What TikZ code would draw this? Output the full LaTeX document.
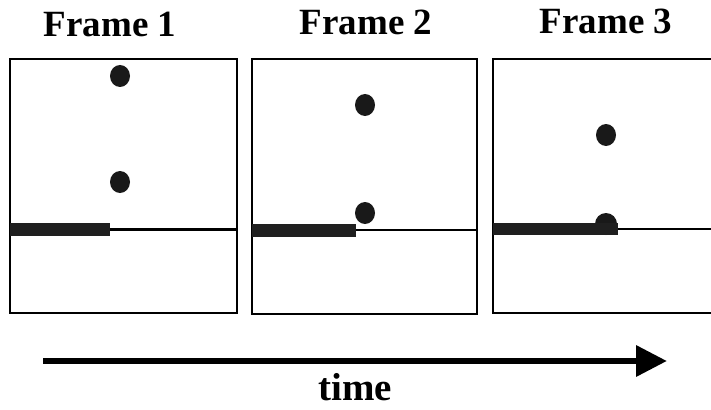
\documentclass[tikz,border=0pt]{standalone}
\usepackage{fontspec}
\setmainfont{Liberation Serif}
\usetikzlibrary{arrows.meta}
\begin{document}
\begin{tikzpicture}[x=1pt,y=-1pt,
  framebox/.style={draw=black,line width=2.4pt},
  floorline/.style={draw=black,line width=2.3pt},
  bar/.style={fill=black!88},
  ball/.style={fill=black!90},
  title/.style={font=\fontsize{37}{42}\selectfont\bfseries,anchor=base}]
\useasboundingbox (0,0) rectangle (711,409);
\clip (0,0) rectangle (711,409);
% titles
\node[title] (t1) at (110,37) {Frame 1};
\node[title] (t2) at (366,35) {Frame 2};
\node[title] (t3) at (606,34) {Frame 3};
% frame 1
\draw[framebox] (10,59) rectangle (237,313);
\draw[floorline] (10,229.5) -- (237,229.5);
\fill[bar] (10,223) rectangle (110,236);
\fill[ball] (120,76) ellipse (10 and 11);
\fill[ball] (120,182) ellipse (10 and 11);
% frame 2
\draw[framebox] (252,59) rectangle (477,314);
\draw[floorline] (252,230) -- (477,230);
\fill[bar] (252,224) rectangle (356,237);
\fill[ball] (365,105) ellipse (10 and 11);
\fill[ball] (365,213) ellipse (10 and 11);
% frame 3
\draw[framebox] (493,59) rectangle (720,313);
\draw[floorline] (493,229) -- (720,229);
\fill[ball] (606,135) ellipse (10 and 11);
\fill[ball] (606,224) ellipse (11 and 11);
\fill[bar] (493,223) rectangle (618,235);
% time arrow
\coordinate (a0) at (43,361);
\coordinate (a1) at (667,361);
\draw[line width=6.5pt,-{Triangle[length=31pt,width=30pt]}] (a0) -- (a1);
\node[font=\fontsize{39}{44}\selectfont\bfseries,anchor=base] (time) at (355,400) {time};
\end{tikzpicture}
\end{document}
